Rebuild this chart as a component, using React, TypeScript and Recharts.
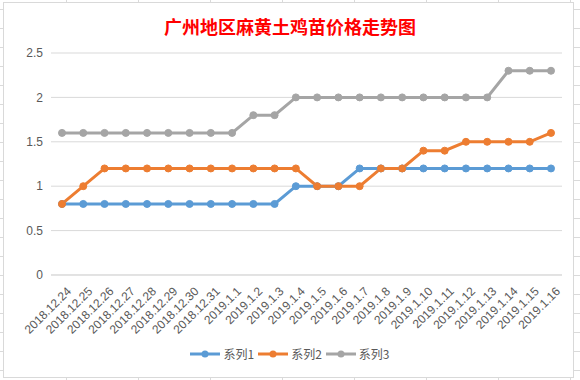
import React from 'react'
import { LineChart, Line, XAxis, YAxis, CartesianGrid, Legend } from 'recharts'

const dates = [
  '2018.12.24', '2018.12.25', '2018.12.26', '2018.12.27', '2018.12.28', '2018.12.29',
  '2018.12.30', '2018.12.31', '2019.1.1', '2019.1.2', '2019.1.3', '2019.1.4',
  '2019.1.5', '2019.1.6', '2019.1.7', '2019.1.8', '2019.1.9', '2019.1.10',
  '2019.1.11', '2019.1.12', '2019.1.13', '2019.1.14', '2019.1.15', '2019.1.16',
]

const series1 = [0.8, 0.8, 0.8, 0.8, 0.8, 0.8, 0.8, 0.8, 0.8, 0.8, 0.8, 1, 1, 1, 1.2, 1.2, 1.2, 1.2, 1.2, 1.2, 1.2, 1.2, 1.2, 1.2]
const series2 = [0.8, 1, 1.2, 1.2, 1.2, 1.2, 1.2, 1.2, 1.2, 1.2, 1.2, 1.2, 1, 1, 1, 1.2, 1.2, 1.4, 1.4, 1.5, 1.5, 1.5, 1.5, 1.6]
const series3 = [1.6, 1.6, 1.6, 1.6, 1.6, 1.6, 1.6, 1.6, 1.6, 1.8, 1.8, 2, 2, 2, 2, 2, 2, 2, 2, 2, 2, 2.3, 2.3, 2.3]

const yTicks = [0, 0.5, 1, 1.5, 2, 2.5]

const seriesNames = ['系列1', '系列2', '系列3']
const colors = ['#5B9BD5', '#ED7D31', '#A5A5A5']

const data = dates.map((d, i) => ({
  date: d,
  s1: series1[i],
  s2: series2[i],
  s3: series3[i],
}))

const font = '"Liberation Sans", Arial, "Noto Sans CJK SC", sans-serif'

function AngledTick(props: any) {
  const { x, y, payload } = props
  return (
    <g transform={`translate(${x + 4},${y + 3})`}>
      <text
        x={0}
        y={0}
        dy="0.7em"
        textAnchor="end"
        transform="rotate(-45)"
        fill="#595959"
        fontSize={12}
        fontFamily={font}
      >
        {payload.value}
      </text>
    </g>
  )
}

// excel style legend: line with a dot in the middle
function LegendContent(props: any) {
  const { payload } = props
  return (
    <div
      style={{
        display: 'flex',
        justifyContent: 'center',
        alignItems: 'center',
        paddingLeft: 22,
        marginTop: 5,
      }}
    >
      {(payload || []).map((entry: any) => (
        <div key={entry.value} style={{ display: 'flex', alignItems: 'center', marginRight: 4 }}>
          <svg width={30} height={10} style={{ marginRight: 3 }}>
            <line x1={0} y1={5} x2={30} y2={5} stroke={entry.color} strokeWidth={3} />
            <circle cx={15} cy={5} r={3.5} fill={entry.color} />
          </svg>
          <span
            style={{
              color: '#595959',
              fontSize: 12,
              fontFamily: '"Noto Sans CJK SC", sans-serif',
            }}
          >
            {entry.value}
          </span>
        </div>
      ))}
    </div>
  )
}

export default function App() {
  return (
    <div
      style={{
        position: 'absolute',
        left: 0,
        top: 0,
        width: 580,
        height: 380,
        background: '#fff',
        backgroundImage:
          'repeating-linear-gradient(to bottom, transparent 0 9px, #dadada 9px 10px, transparent 10px 19px), repeating-linear-gradient(to right, transparent 0 66px, #dadada 66px 67px, transparent 67px 72px)',
        fontFamily: font,
      }}
    >
      <div
        style={{
          position: 'absolute',
          left: 3,
          top: 2,
          width: 569,
          height: 374,
          background: '#fff',
          border: '1px solid #d9d9d9',
        }}
      />
      <div
        style={{
          position: 'absolute',
          left: 0,
          top: 13,
          width: 580,
          textAlign: 'center',
          color: '#FF0000',
          fontSize: 18,
          fontWeight: 'bold',
          fontFamily: '"Noto Sans CJK SC", sans-serif',
        }}
      >
        广州地区麻黄土鸡苗价格走势图
      </div>
      <div style={{ position: 'absolute', left: 0, top: 0 }}>
        <LineChart
          width={580}
          height={380}
          data={data}
          margin={{ top: 53, right: 18, left: 0, bottom: 10 }}
        >
          <CartesianGrid vertical={false} stroke="#d9d9d9" />
          <XAxis
            dataKey="date"
            interval={0}
            padding={{ left: 11, right: 11 }}
            axisLine={{ stroke: '#d9d9d9' }}
            tickLine={false}
            height={65}
            tick={<AngledTick />}
          />
          <YAxis
            domain={[0, 2.5]}
            ticks={yTicks}
            axisLine={false}
            tickLine={false}
            width={51}
            tick={{ fill: '#595959', fontSize: 12, fontFamily: font }}
          />
          <Legend verticalAlign="bottom" height={30} content={<LegendContent />} />
          {['s1', 's2', 's3'].map((key, i) => (
            <Line
              key={key}
              dataKey={key}
              name={seriesNames[i]}
              type="linear"
              stroke={colors[i]}
              strokeWidth={3}
              dot={{ r: 3.5, fill: colors[i], stroke: colors[i], strokeWidth: 1 }}
              activeDot={false}
              isAnimationActive={false}
            />
          ))}
        </LineChart>
      </div>
    </div>
  )
}
